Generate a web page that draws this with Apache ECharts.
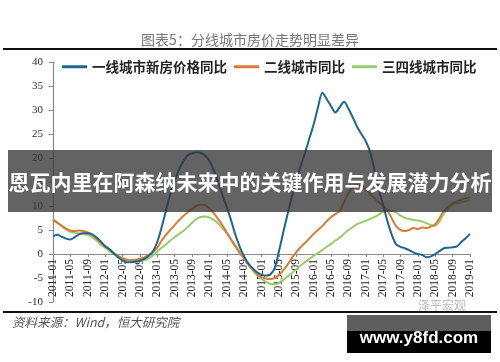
<!DOCTYPE html>
<html>
<head>
<meta charset="utf-8">
<script src="https://cdn.jsdelivr.net/npm/echarts@6/dist/echarts.min.js"></script>
<style>html,body{margin:0;padding:0;background:#fff;}#c{width:500px;height:362px;}</style>
</head>
<body>
<div id="c"></div>
<script>
// Categories: monthly, 2011-01 .. 2019-01
var years = [2011, 2012, 2013, 2014, 2015, 2016, 2017, 2018];
var months = ['01','02','03','04','05','06','07','08','09','10','11','12'];
var categories = [];
years.forEach(function (y) { months.forEach(function (m) { categories.push(y + '-' + m); }); });
categories.push('2019-01');

var seriesNames = ['一线城市新房价格同比', '二线城市同比', '三四线城市同比'];

var tier1 = [3.7,4.0,3.6,3.2,3.0,3.5,4.1,4.3,4.3,4.1,3.5,2.6,
  1.6,1.0,0.1,-0.7,-1.4,-1.7,-1.7,-1.6,-1.4,-1.0,-0.4,0.5,
  2.5,5.5,9.0,12.5,15.2,17.6,19.3,20.5,21.0,21.2,21.1,20.5,
  19.4,17.5,15.0,12.3,9.8,7.0,4.0,1.5,-0.5,-2.0,-3.0,-3.8,
  -4.3,-4.5,-4.3,-3.0,0.5,4.5,8.3,12.0,15.2,18.3,21.0,24.0,
  27.0,30.5,33.6,32.3,30.8,29.5,30.6,31.7,30.3,28.5,26.5,25.0,
  23.5,21.3,17.5,13.5,10.2,6.8,4.0,2.0,1.5,1.2,0.8,0.3,
  0.0,-0.2,-0.7,-0.5,0.0,0.6,1.2,1.3,1.4,1.6,2.5,3.3,
  4.2];

var tier2 = [7.1,6.5,5.9,5.3,4.9,4.8,4.9,4.8,4.5,4.0,3.2,2.4,
  1.6,1.0,0.2,-0.4,-0.9,-1.2,-1.3,-1.2,-1.0,-0.7,-0.2,0.4,
  1.3,2.8,4.0,5.0,6.0,7.0,7.9,8.7,9.4,10.0,10.3,10.2,
  9.5,8.5,7.3,6.0,4.5,3.0,1.5,0.2,-1.0,-2.2,-3.3,-4.2,
  -4.8,-5.1,-5.2,-5.0,-4.4,-3.4,-2.2,-0.8,0.4,1.4,2.3,3.2,
  4.2,5.0,5.8,6.8,7.7,8.3,9.0,10.8,12.7,13.8,14.4,14.3,
  13.5,12.5,11.6,10.8,10.0,9.0,7.4,5.8,5.0,4.8,5.0,5.4,
  5.2,5.5,5.4,5.7,6.2,7.5,9.0,9.9,10.6,11.0,11.3,11.6,
  11.8];

var tier34 = [7.3,6.6,5.8,5.1,4.6,4.4,4.3,4.2,4.0,3.5,2.8,2.0,
  1.3,0.6,0.0,-0.5,-0.9,-1.2,-1.4,-1.5,-1.5,-1.3,-0.9,-0.3,
  0.5,1.3,2.0,2.8,3.5,4.2,4.8,5.6,6.5,7.3,7.7,7.8,
  7.6,7.1,6.4,5.4,4.3,3.0,1.8,0.5,-0.9,-2.2,-3.4,-4.4,
  -5.2,-5.8,-6.2,-6.3,-6.0,-5.4,-4.7,-4.0,-3.2,-2.4,-1.7,-1.0,
  -0.4,0.2,0.8,1.5,2.1,2.8,3.4,4.2,5.0,5.6,6.2,6.6,
  6.9,7.3,7.7,8.2,8.8,9.2,9.0,8.6,8.0,7.5,7.3,7.1,
  7.0,6.8,6.4,6.0,5.9,6.8,8.5,9.5,10.3,10.6,10.8,11.0,
  11.2];

var yTicks = [-10, -5, 0, 5, 10, 15, 20, 25, 30, 35, 40];

var chart = echarts.init(document.getElementById('c'), null, {renderer: 'canvas'});
var serif = '"Liberation Serif", "DejaVu Serif", serif';
var cjk = '"Noto Sans CJK SC", sans-serif';

// grid: top 62 (=40), bottom edge at 302 (=-10); zero line is 48px above the bottom edge
var gridTop = 62, gridBottomY = 302;
var zeroOffset = -(gridBottomY - gridTop) * (0 - yTicks[0]) / (yTicks[yTicks.length - 1] - yTicks[0]);

chart.setOption({
  animation: false,
  backgroundColor: '#ffffff',
  title: {
    text: '图表5：分线城市房价走势明显差异',
    left: 'center', top: 28,
    textStyle: {fontFamily: cjk, fontSize: 14, fontWeight: 'normal', color: '#777'}
  },
  legend: {
    left: 57, top: 55,
    itemWidth: 25, itemHeight: 3, itemGap: 7,
    icon: 'rect',
    textStyle: {fontFamily: cjk, fontSize: 13.5, fontWeight: 'bold', color: '#222'},
    data: seriesNames
  },
  grid: {left: 53, right: 30, top: gridTop, bottom: 362 - gridBottomY, containLabel: false},
  xAxis: {
    type: 'category',
    data: categories,
    boundaryGap: false,
    offset: zeroOffset,
    axisLine: {onZero: false, lineStyle: {color: '#8a8a8a', width: 1.2}},
    axisTick: {interval: 3, length: 3, lineStyle: {color: '#8a8a8a'}},
    axisLabel: {interval: 3, rotate: 90, margin: 5, fontFamily: serif, fontSize: 11.5, color: '#222'},
    splitLine: {show: false}
  },
  yAxis: {
    type: 'value',
    min: yTicks[0], max: yTicks[yTicks.length - 1], interval: 5,
    axisLine: {show: true, lineStyle: {color: '#8a8a8a', width: 1.2}},
    axisTick: {show: true, length: 4, lineStyle: {color: '#8a8a8a'}},
    axisLabel: {margin: 10, fontFamily: serif, fontSize: 11, color: '#333'},
    splitLine: {show: false}
  },
  series: [
    {name: seriesNames[0], type: 'line', data: tier1, smooth: 0.3, showSymbol: false,
     lineStyle: {width: 2, color: '#1d6592'}, itemStyle: {color: '#1d6592'}, z: 4},
    {name: seriesNames[1], type: 'line', data: tier2, smooth: 0.3, showSymbol: false,
     lineStyle: {width: 2, color: '#d97b33'}, itemStyle: {color: '#d97b33'}, z: 3},
    {name: seriesNames[2], type: 'line', data: tier34, smooth: 0.3, showSymbol: false,
     lineStyle: {width: 2, color: '#9acb6b'}, itemStyle: {color: '#9acb6b'}, z: 2}
  ],
  graphic: [
    {type: 'rect', z: 50, shape: {x: 3, y: 48, width: 494, height: 2}, style: {fill: '#111'}},
    {type: 'rect', z: 50, shape: {x: 3, y: 311, width: 494, height: 2}, style: {fill: '#111'}},
    {type: 'text', z: 50, left: 12, top: 316,
     style: {text: '资料来源：Wind，恒大研究院', fontFamily: cjk, fontSize: 12.5, fontStyle: 'italic', fill: '#555'}},
    {type: 'text', z: 50, left: 418, top: 299,
     style: {text: '泽平宏观', fontFamily: cjk, fontSize: 12, fill: '#bbb'}},
    {type: 'rect', z: 100, shape: {x: 8, y: 150, width: 484, height: 62}, style: {fill: 'rgba(55,55,55,0.78)'}},
    {type: 'text', z: 101, x: 250, y: 182,
     style: {text: '恩瓦内里在阿森纳未来中的关键作用与发展潜力分析', fontFamily: cjk, fontSize: 21, fontWeight: 'bold',
             fill: '#fff', align: 'center', verticalAlign: 'middle'}},
    {type: 'rect', z: 100, shape: {x: 347, y: 315, width: 144, height: 16}, style: {fill: '#5e5e5e'}},
    {type: 'rect', z: 100, shape: {x: 347, y: 331, width: 144, height: 22}, style: {fill: '#000'}},
    {type: 'text', z: 101, x: 419, y: 338,
     style: {text: 'www.y8fd.com', fontFamily: '"Liberation Sans", Arial, sans-serif', fontSize: 17, fontWeight: 'bold',
             fill: '#fff', align: 'center', verticalAlign: 'middle'}}
  ]
});
</script>
</body>
</html>
